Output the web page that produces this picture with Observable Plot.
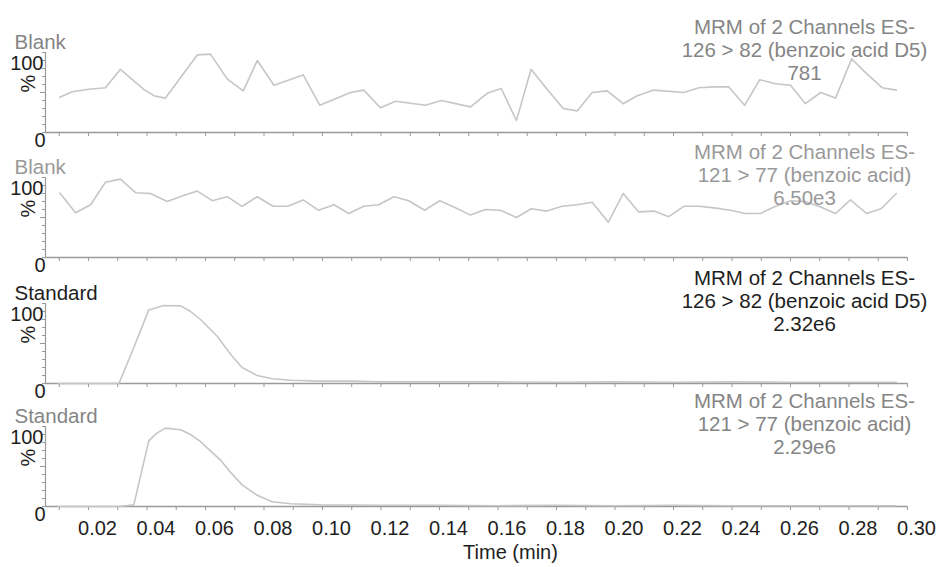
<!DOCTYPE html>
<html>
<head>
<meta charset="utf-8">
<script src="https://cdn.jsdelivr.net/npm/d3@7"></script>
<script src="https://cdn.jsdelivr.net/npm/@observablehq/plot@0.6"></script>
<style>
  html, body { margin: 0; padding: 0; background: #fff; }
  #chart { position: relative; width: 943px; height: 567px; overflow: hidden; background: #fff; }
  #chart > svg { position: absolute; left: 0; }
</style>
</head>
<body>
<div id="chart"></div>
<script>
// ---- Data ----
const xDomain = [0.0053, 0.30];
const minorTicks = d3.range(1, 31).map(i => i / 100);
const majorTicks = d3.range(1, 16).map(i => +(i * 0.02).toFixed(2));

// Panel 1: Blank, 126 > 82 (benzoic acid D5)
const blankD5Time = [0.0102,0.0144,0.0201,0.0258,0.0309,0.0389,0.0423,0.0463,0.0572,0.0617,0.0674,0.0729,0.0777,0.0834,0.0934,0.0991,0.1096,0.1141,0.1198,0.125,0.1352,0.1406,0.1506,0.1563,0.1611,0.1663,0.1713,0.1768,0.1823,0.1871,0.1922,0.1973,0.2028,0.2076,0.2133,0.2235,0.2287,0.2338,0.2389,0.2443,0.2495,0.2549,0.26,0.2651,0.2703,0.2754,0.2809,0.2862,0.2913,0.2962];
const blankD5Value = [44,51,54,56,79,54,46,43,97,98,67,52,90,59,72,34,50,53,31,39,34,40,32,49,55,15,79,54,30,27,50,52,36,46,53,50,56,57,57,34,66,61,59,36,50,43,92,73,56,53];

// Panel 2: Blank, 121 > 77 (benzoic acid)
const blankTime = [0.0102,0.0156,0.0207,0.0258,0.0309,0.0361,0.0412,0.0469,0.052,0.0572,0.0623,0.0674,0.0725,0.0777,0.0831,0.0881,0.0934,0.0987,0.1039,0.109,0.1141,0.1192,0.1244,0.1295,0.1349,0.1401,0.1449,0.1506,0.1557,0.1609,0.1663,0.1714,0.1766,0.1819,0.1871,0.1922,0.1977,0.2028,0.2081,0.2133,0.2184,0.2235,0.2287,0.2338,0.2395,0.2446,0.2497,0.2549,0.26,0.2651,0.2703,0.2754,0.2805,0.286,0.291,0.2962];
const blankValue = [80.5,56,66,94,98,81,80,70,77,83,71,76,64,76,64,64,72,59,66,55,64,66,76,71,59,71,63,53,60,59,50,61,58,64,66,69,44,80,57,58,51,64,64,62,59,55,55,64,71,70,63,55,72,55,61,80];

// Panel 3: Standard, 126 > 82 (benzoic acid D5)
const stdD5Time = [0.0097,0.02,0.0304,0.0355,0.0406,0.0457,0.0515,0.0549,0.0583,0.064,0.0685,0.0725,0.0777,0.0828,0.0891,0.0993,0.1096,0.12,0.14,0.16,0.18,0.2,0.22,0.24,0.26,0.28,0.2962];
const stdD5Value = [0,0,0,45,92,97.5,97,90,80,59,37,20,10,6,4,3,3,2,2,2,1.5,2,1.5,2,1.5,1.5,1.5];

// Panel 4: Standard, 121 > 77 (benzoic acid)
const stdTime = [0.0097,0.02,0.0304,0.0355,0.0406,0.0435,0.0463,0.0515,0.0549,0.0583,0.0651,0.0685,0.0725,0.0777,0.0828,0.0891,0.0993,0.12,0.14,0.16,0.18,0.2,0.22,0.24,0.26,0.28,0.2962];
const stdValue = [0,0,0,2,82,92,98,96,90,81,58,43,27,14,6,3.4,2,1.5,1.5,1,1.5,1,1.5,1,1,1,1];

const panelLabels = ["Blank", "Blank", "Standard", "Standard"];
const panelTitles = [
  "MRM of 2 Channels ES-\n126 > 82 (benzoic acid D5)\n781",
  "MRM of 2 Channels ES-\n121 > 77 (benzoic acid)\n6.50e3",
  "MRM of 2 Channels ES-\n126 > 82 (benzoic acid D5)\n2.32e6",
  "MRM of 2 Channels ES-\n121 > 77 (benzoic acid)\n2.29e6"
];
const xLabel = "Time (min)";

// ---- Drawing ----
const font = "'Liberation Sans', Arial, sans-serif";
const axisColor = "#9a9a9a";
const traceColor = "#c6c6c6";
const grayText = "#858585";
const darkText = "#1e1e1e";

function panel({time, value, label, labelColor, title, titleColor, bottom}) {
  const data = time.map((t, i) => ({t, v: value[i]}));
  const mb = bottom ? 61 : 15;
  return Plot.plot({
    width: 943,
    height: 52 + 80 + mb,
    marginLeft: 45,
    marginRight: 36,
    marginTop: 52,
    marginBottom: mb,
    x: {domain: xDomain, label: null},
    y: {domain: [0, 100], label: null},
    style: {background: "transparent", overflow: "visible", fontFamily: font},
    marks: [
      Plot.axisY({ticks: d3.range(0, 101, 10), tickSize: 3, tickFormat: () => "", label: null, stroke: axisColor}),
      Plot.axisY({ticks: [50], tickSize: 5, tickFormat: () => "", label: null, stroke: axisColor}),
      Plot.ruleX([xDomain[0]], {y1: 0, y2: 100, stroke: axisColor, strokeWidth: 1.2}),
      Plot.ruleY([0], {stroke: axisColor, strokeWidth: 1.5}),
      Plot.axisX({ticks: minorTicks, tickSize: 4, tickFormat: () => "", label: null, stroke: axisColor}),
      bottom ? Plot.axisX({ticks: majorTicks, tickSize: 0, tickPadding: 14, tickFormat: d3.format(".2f"),
        fontSize: 20, dx: 9, label: null, fill: darkText}) : null,
      Plot.line(data, {x: "t", y: "v", stroke: traceColor, strokeWidth: 1.6}),
      Plot.text(["100"], {text: d => d, frameAnchor: "top-left", dx: -2, dy: 3, textAnchor: "end", lineAnchor: "top", fontSize: 20, fill: darkText}),
      Plot.text(["0"], {text: d => d, frameAnchor: "bottom-left", dx: 0, dy: 0, textAnchor: "end", lineAnchor: "top", fontSize: 20, fill: darkText}),
      Plot.text(["%"], {text: d => d, frameAnchor: "left", dx: -17, rotate: -90, fontSize: 20, fill: darkText}),
      Plot.text([label], {text: d => d, frameAnchor: "top-left", dx: -31, dy: -4, textAnchor: "start", lineAnchor: "bottom", fontSize: 20.5, fill: labelColor}),
      Plot.text([title], {text: d => d, frameAnchor: "top-right", dx: -103, dy: -35, textAnchor: "middle", lineAnchor: "top", lineHeight: 1.12, fontSize: 20.5, fill: titleColor}),
      bottom ? Plot.text([xLabel], {text: d => d, frameAnchor: "bottom", dx: 34, dy: 52, lineAnchor: "bottom", fontSize: 20, fill: darkText}) : null
    ]
  });
}

const specs = [
  {time: blankD5Time, value: blankD5Value, label: panelLabels[0], labelColor: grayText, title: panelTitles[0], titleColor: grayText, bottom: false, top: 0},
  {time: blankTime, value: blankValue, label: panelLabels[1], labelColor: "#999", title: panelTitles[1], titleColor: "#999", bottom: false, top: 125},
  {time: stdD5Time, value: stdD5Value, label: panelLabels[2], labelColor: darkText, title: panelTitles[2], titleColor: darkText, bottom: false, top: 251},
  {time: stdTime, value: stdValue, label: panelLabels[3], labelColor: grayText, title: panelTitles[3], titleColor: grayText, bottom: true, top: 374}
];

const chart = document.getElementById("chart");
for (const s of specs) {
  const svg = panel(s);
  svg.style.top = s.top + "px";
  chart.appendChild(svg);
}
</script>
</body>
</html>
